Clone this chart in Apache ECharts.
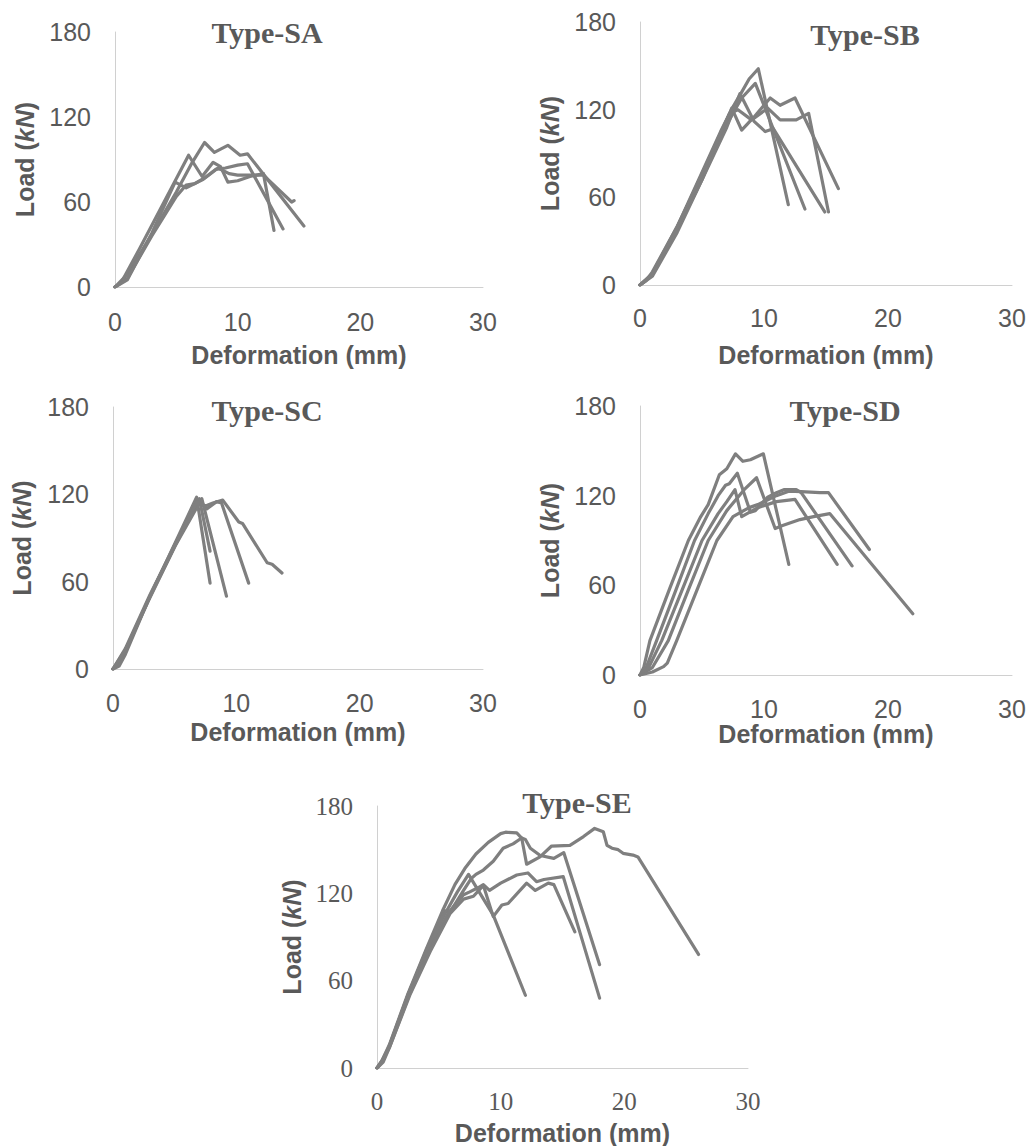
<!DOCTYPE html>
<html>
<head>
<meta charset="utf-8">
<script src="https://cdn.jsdelivr.net/npm/echarts@6/dist/echarts.min.js"></script>
<style>
html,body{margin:0;padding:0;background:#fff;}
#chart{width:1031px;height:1146px;}
</style>
</head>
<body>
<div id="chart"></div>
<script>
// ---------- data (deformation mm, load kN) ----------
const panelTitles = ['Type-SA', 'Type-SB', 'Type-SC', 'Type-SD', 'Type-SE'];
const xTicks = [0, 10, 20, 30];
const yTicks = [0, 60, 120, 180];
const xAxisTitle = 'Deformation (mm)';
const yAxisTitle = 'Load ({i|kN})';

const sa1 = [[0,0],[1,9],[3,37],[5,67],[6.3,88],[7.3,102],[8.1,95],[9.2,100],[10.2,93],[10.8,94],[15.4,43]];
const sa2 = [[0,0],[0.5,3],[2,27],[4,60],[6.0,93],[7.1,78],[8.0,88],[8.6,85],[9.2,74],[10,75],[11,78],[12.1,80],[12.96,40]];
const sa3 = [[0,0],[1,6],[3,36],[5,64],[5.8,72],[6.5,73],[7.3,77],[8.2,83],[9,84],[10,86],[10.8,87],[13.7,41]];
const sa4 = [[0,0],[1,5],[3,38],[4.9,74],[5.8,70],[7.2,76],[8.4,84],[9.3,80],[10,79],[11,79],[12.1,79],[14.4,60],[14.6,61]];

const sb1 = [[0,0],[0.5,3],[1,9],[3,40],[5,77],[6.5,105],[7.5,122],[8.2,132],[8.8,141],[9.54,148],[11.96,55]];
const sb2 = [[0,0],[1,8],[3,40],[5,75],[7,110],[8.2,128],[9.3,138],[13.3,52]];
const sb3 = [[0,0],[1,7],[3,38],[5,72],[7,108],[8.06,131],[9.2,112],[10.1,105],[10.75,107],[14.9,50]];
const sb4 = [[0,0],[1,6],[3,36],[5,72],[7.4,121],[8.2,106],[9.2,115],[10.5,128],[11.3,123],[12.5,128],[16.0,66]];
const sb5 = [[0,0],[1,7],[3,39],[5,76],[7.2,117],[7.9,120],[9,113],[10.3,121],[11.3,113],[12.6,113],[13.6,117.5],[15.2,50]];

const sc1 = [[0,0],[0.5,2],[1,10],[3,50],[5,86],[6.78,118],[7.87,59]];
const sc2 = [[0,0],[1,12],[3,50],[5,85],[7.0,117],[7.87,81]];
const sc3 = [[0,0],[0.5,4],[3,49],[5,84],[7.2,117],[9.2,50]];
const sc4 = [[0,0],[1,14],[3,51],[5,85],[6.9,116],[7.6,110],[8.4,115],[8.8,114],[11.0,59]];
const sc5 = [[0,0],[1,13],[3,50],[5,84],[6.8,115],[7.5,112],[8.1,114],[8.9,116],[10.2,101],[10.5,100],[12.5,73],[12.9,72],[13.7,66]];

const sd1 = [[0,0],[0.3,5],[0.8,23],[2.4,58],[3.9,90],[4.9,106],[5.5,114],[6.4,134],[7,138],[7.7,148],[8.3,143],[8.9,144],[9.95,148],[12.0,74]];
const sd2 = [[0,0],[0.5,5],[1.34,23],[2.9,57],[4.4,90],[5.5,108],[6.3,120],[6.9,127],[7.2,128],[7.85,135],[8.9,109],[9.3,110],[10.3,119],[11,122],[11.6,124],[12.6,124],[13,122],[17.1,73]];
const sd3 = [[0,0],[1,5],[2.28,23],[3.9,57],[5.5,90],[7,110],[8.4,124],[9.4,132],[10.9,98],[11.5,100],[12.9,104],[14,106],[15.3,108],[22.0,41]];
const sd4 = [[0,0],[0.7,5],[1.75,23],[3.4,57],[5.0,90],[6.3,108],[7.0,116],[7.66,124],[8.2,106],[9.5,112],[11,116],[12.5,117.5],[15.9,74]];
const sd5 = [[0,0],[1,2],[1.9,5.6],[2.2,8],[2.96,23],[4.6,57],[6.2,90],[7.5,106],[8.8,112],[9.5,114],[11,120],[12,123],[13,122.7],[14.5,122],[15.2,122],[18.5,84]];

const se1 = [[0,0],[0.4,5],[1,16],[2.5,51],[4,82],[5.3,108],[6.3,126],[7.1,137],[8,147],[9,155],[10,161],[10.4,162],[11.3,161.5],[11.7,158],[12.1,140],[13.18,145],[14.12,152.5],[15.6,153],[16.7,159],[17.6,164.6],[18.3,162.3],[18.6,153],[19,151],[19.5,150],[19.9,147.5],[20.7,146.3],[21.1,145],[26.0,78]];
const se2 = [[0,0],[0.4,5],[1,15],[2.5,50],[4,81],[5.5,108],[5.9,107],[7,122],[7.6,130],[8,133],[8.6,136],[9.4,142],[10.2,151],[11,154],[11.7,158],[12,157],[12.4,151],[13.2,146],[14.3,144],[15.1,148],[18.0,71]];
const se3 = [[0,0],[0.4,4],[1,15],[2.5,50],[4,80],[5.5,106],[6.5,121],[7.4,133],[9.4,105],[12.0,50]];
const se4 = [[0,0],[0.4,4],[1,14],[2.6,50],[4.2,80],[5.8,107],[7,119],[7.5,121],[8.2,124],[8.6,126],[9.1,122],[10,127],[11.3,132.6],[12.2,134],[12.9,128],[13.5,129.5],[15.06,131.5],[18.0,48]];
const se5 = [[0,0],[0.5,4],[1,14],[2.7,51],[4.3,80],[5.9,106],[7,116],[7.8,118],[8.6,125.5],[9.4,104],[10.1,112],[10.6,113],[12.1,127],[12.8,122],[13.85,127],[14.3,126],[16.0,93.5]];

const panelSeries = [
  [sa1, sa2, sa3, sa4],
  [sb1, sb2, sb3, sb4, sb5],
  [sc1, sc2, sc3, sc4, sc5],
  [sd1, sd2, sd3, sd4, sd5],
  [se1, se2, se3, se4, se5]
];

// ---------- layout ----------
const grids = [
  {left:115, top:32,  width:368, height:255},
  {left:640, top:22,  width:372, height:263},
  {left:113, top:407, width:370, height:262},
  {left:640, top:406, width:372, height:269},
  {left:377, top:806, width:371, height:262}
];
const titlePos = [[262,30],[860,32],[262,408],[840,408],[572,800]];
const yNameGap = [78, 78, 79, 78, 73];
const xNameGap = [55, 57, 50, 43, 52];
const xLabelMargin = [22, 20, 21, 21, 21];
const tickFonts = ['Liberation Sans','Liberation Sans','Liberation Sans','Liberation Sans','Liberation Serif'];

const textColor = '#595959';
const lineColor = '#7f7f7f';
const axisColor = '#d0d0d0';

const nameStyle = {
  fontFamily:'Liberation Sans', fontWeight:'bold', fontSize:25, color:textColor,
  rich:{ i:{fontFamily:'Liberation Sans', fontWeight:'bold', fontStyle:'italic', fontSize:25, color:textColor} }
};

const xAxes = [], yAxes = [], series = [], titles = [];
grids.forEach((g, i) => {
  xAxes.push({
    type:'value', gridIndex:i, min:xTicks[0], max:xTicks[xTicks.length-1], interval:xTicks[1]-xTicks[0],
    axisLine:{show:true, lineStyle:{color:axisColor, width:1}},
    axisTick:{show:false}, splitLine:{show:false},
    axisLabel:{color:textColor, fontSize:25, fontFamily:tickFonts[i], margin:xLabelMargin[i]},
    name:xAxisTitle, nameLocation:'middle', nameGap:xNameGap[i], nameTextStyle:nameStyle
  });
  yAxes.push({
    type:'value', gridIndex:i, min:yTicks[0], max:yTicks[yTicks.length-1], interval:yTicks[1]-yTicks[0],
    axisLine:{show:true, lineStyle:{color:axisColor, width:1}},
    axisTick:{show:false}, splitLine:{show:false},
    axisLabel:{color:textColor, fontSize:25, fontFamily:tickFonts[i], margin:24},
    name:yAxisTitle, nameLocation:'middle', nameGap:yNameGap[i], nameTextStyle:nameStyle
  });
  titles.push({
    text:panelTitles[i], left:titlePos[i][0], top:titlePos[i][1] - 18, textAlign:'center',
    textStyle:{fontFamily:'Liberation Serif', fontWeight:'bold', fontSize:30, color:textColor}
  });
  panelSeries[i].forEach(d => {
    series.push({
      type:'line', xAxisIndex:i, yAxisIndex:i, data:d, showSymbol:false, symbol:'none',
      smooth:false, animation:false, silent:true,
      lineStyle:{color:lineColor, width:3.2, join:'round', cap:'round'}
    });
  });
});

const chart = echarts.init(document.getElementById('chart'), null, {renderer:'svg'});
chart.setOption({
  backgroundColor:'#ffffff',
  animation:false,
  title:titles,
  grid:grids.map(g => Object.assign({containLabel:false}, g)),
  xAxis:xAxes,
  yAxis:yAxes,
  series:series
});
</script>
</body>
</html>
